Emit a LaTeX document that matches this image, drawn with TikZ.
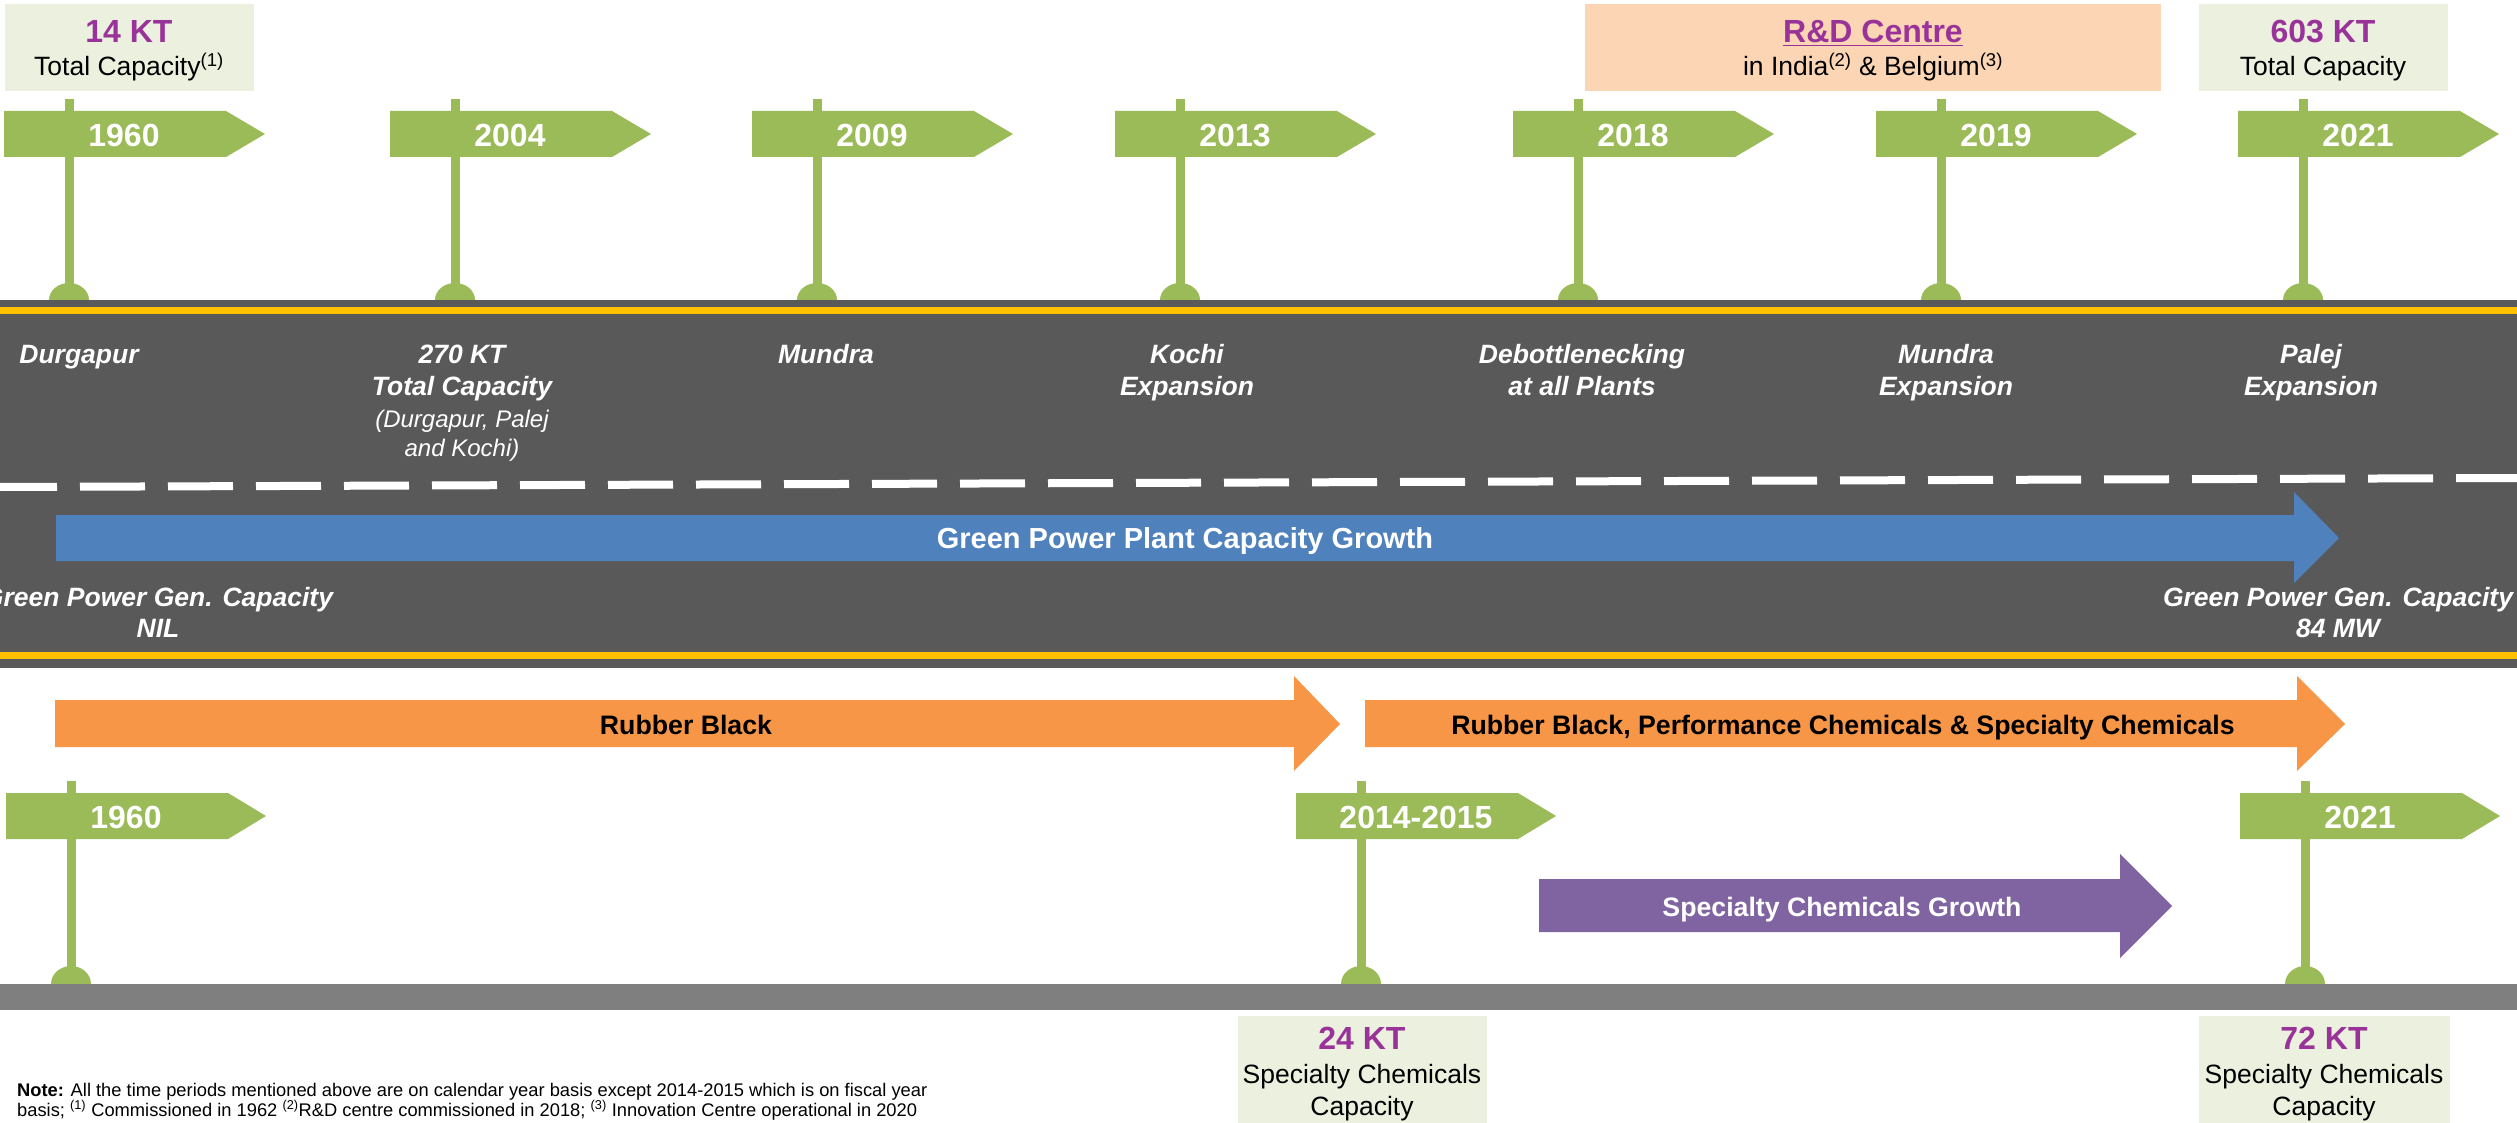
\documentclass[tikz,border=0pt]{standalone}
\usepackage{fontspec}
\setmainfont{Liberation Sans}
\definecolor{sgreen}{HTML}{9BBB59}
\definecolor{roadc}{HTML}{595959}
\definecolor{lanec}{HTML}{FFC000}
\definecolor{lroad}{HTML}{7F7F7F}
\definecolor{gblue}{HTML}{4F81BD}
\definecolor{rorange}{HTML}{F79646}
\definecolor{spurple}{HTML}{8064A2}
\definecolor{numpurple}{HTML}{993399}
\definecolor{boxgreen}{HTML}{EBF1DE}
\definecolor{boxpeach}{HTML}{FCD5B5}
\begin{document}
\begin{tikzpicture}[x=1pt,y=-1pt,
  yearlbl/.style={text=white,font=\fontsize{32}{38}\selectfont\bfseries,anchor=base,inner sep=0pt},
  roadbi/.style={text=white,font=\fontsize{26.5}{31}\selectfont\bfseries\itshape,anchor=base,inner sep=0pt},
  roadit/.style={text=white,font=\fontsize{24}{29}\selectfont\itshape,anchor=base,inner sep=0pt},
  numlbl/.style={text=numpurple,font=\fontsize{32}{38}\selectfont\bfseries,anchor=base,inner sep=0pt},
  boxtxt/.style={text=black,font=\fontsize{26.5}{31}\selectfont,anchor=base,inner sep=0pt},
  barlbl/.style={font=\fontsize{26.7}{31}\selectfont\bfseries,anchor=base,inner sep=0pt},
  notetxt/.style={text=black,font=\fontsize{18.3}{21}\selectfont,anchor=base west,inner sep=0pt}
]
\useasboundingbox (0,0) rectangle (2517,1123);
\fill[white] (0,0) rectangle (2517,1123);

% info boxes
\fill[boxgreen] (5,4) rectangle (254,91);
\fill[boxpeach] (1585,4) rectangle (2161,91);
\fill[boxgreen] (2199,4) rectangle (2448,91);
\fill[boxgreen] (1238,1016) rectangle (1487,1123);
\fill[boxgreen] (2199,1016) rectangle (2450,1123);

\node[numlbl] (kt14) at (129,43) {14 KT};
\node[boxtxt] (cap14) at (129,76) {Total Capacity\textsuperscript{(1)}};
\node[numlbl] (rnd) at (1873,43) {\underline{R\&D Centre}};
\node[boxtxt] (rndloc) at (1873,76) {in India\textsuperscript{(2)} \& Belgium\textsuperscript{(3)}};
\node[numlbl] (kt603) at (2323,43) {603 KT};
\node[boxtxt] (cap603) at (2323,76) {Total Capacity};

% upper signposts
\foreach \px/\yr/\nm in {69/1960/ua,455/2004/ub,817/2009/uc,1180/2013/ud,1578/2018/ue,1941/2019/uf,2303/2021/ug}{
  \fill[sgreen] (\px-4.5,99) rectangle (\px+4.5,300);
  \fill[sgreen] (\px,300) ellipse[x radius=20pt,y radius=17pt];
  \fill[sgreen] (\px-65,111) -- (\px+157,111) -- (\px+196,134) -- (\px+157,157) -- (\px-65,157) -- cycle;
  \node[yearlbl] (\nm) at (\px+55,147) {\yr};
}

% upper road
\fill[roadc] (0,300) rectangle (2517,668);
\fill[lanec] (0,307) rectangle (2517,314);
\fill[lanec] (0,652) rectangle (2517,659);
\draw[white,line width=8pt,dash pattern=on 65pt off 23pt,dash phase=8pt] (0,487) -- (2517,478);

% road texts
\node[roadbi] (durg) at (79,363) {Durgapur};
\node[roadbi] (kt270) at (462,363) {270 KT};
\node[roadbi] (tc270) at (462,395) {Total Capacity};
\node[roadit] (pl1) at (462,427) {(Durgapur, Palej};
\node[roadit] (pl2) at (462,456) {and Kochi)};
\node[roadbi] (mun) at (826,363) {Mundra};
\node[roadbi] (koc1) at (1187,363) {Kochi};
\node[roadbi] (koc2) at (1187,395) {Expansion};
\node[roadbi] (deb1) at (1582,363) {Debottlenecking};
\node[roadbi] (deb2) at (1582,395) {at all Plants};
\node[roadbi] (mex1) at (1946,363) {Mundra};
\node[roadbi] (mex2) at (1946,395) {Expansion};
\node[roadbi] (pal1) at (2311,363) {Palej};
\node[roadbi] (pal2) at (2311,395) {Expansion};

% green power arrow
\fill[gblue] (56,515) -- (2294,515) -- (2294,492) -- (2339,538) -- (2294,583) -- (2294,561) -- (56,561) -- cycle;
\node[barlbl,text=white,font=\fontsize{29}{34}\selectfont\bfseries] (gpg) at (1185,548) {Green Power Plant Capacity Growth};
\node[roadbi] (gpl1) at (158,606) {Green Power Gen. Capacity};
\node[roadbi] (gpl2) at (158,637) {NIL};
\node[roadbi] (gpr1) at (2338,606) {Green Power Gen. Capacity};
\node[roadbi] (gpr2) at (2338,637) {84 MW};

% orange arrows
\fill[rorange] (55,700) -- (1294,700) -- (1294,676) -- (1340,724) -- (1294,771) -- (1294,747) -- (55,747) -- cycle;
\fill[rorange] (1365,700) -- (2297,700) -- (2297,676) -- (2345,724) -- (2297,771) -- (2297,747) -- (1365,747) -- cycle;
\node[barlbl,text=black] (rb) at (686,734) {Rubber Black};
\node[barlbl,text=black] (rbp) at (1843,734) {Rubber Black, Performance Chemicals \& Specialty Chemicals};

% lower signposts
\foreach \px/\yr/\nm in {71/1960/la,1361/2014-2015/lb,2305/2021/lc}{
  \fill[sgreen] (\px-4.5,781) rectangle (\px+4.5,984);
  \fill[sgreen] (\px,984) ellipse[x radius=20pt,y radius=18pt];
  \fill[sgreen] (\px-65,793) -- (\px+157,793) -- (\px+195,816) -- (\px+157,839) -- (\px-65,839) -- cycle;
  \node[yearlbl] (\nm) at (\px+55,828) {\yr};
}

% purple arrow
\fill[spurple] (1539,879) -- (2120,879) -- (2120,854) -- (2172,906) -- (2120,958) -- (2120,932) -- (1539,932) -- cycle;
\node[barlbl,text=white] (scg) at (1842,916) {Specialty Chemicals Growth};

% lower road
\fill[lroad] (0,984) rectangle (2517,1010);

% lower boxes text
\node[numlbl] (kt24) at (1362,1049) {24 KT};
\node[boxtxt] (sc24a) at (1362,1083) {Specialty Chemicals};
\node[boxtxt] (sc24b) at (1362,1115) {Capacity};
\node[numlbl] (kt72) at (2324,1049) {72 KT};
\node[boxtxt] (sc72a) at (2324,1083) {Specialty Chemicals};
\node[boxtxt] (sc72b) at (2324,1115) {Capacity};

% note
\node[notetxt] (note1) at (17,1096) {\textbf{Note:} All the time periods mentioned above are on calendar year basis except 2014-2015 which is on fiscal year};
\node[notetxt] (note2) at (17,1116) {basis; \textsuperscript{(1)} Commissioned in 1962 \textsuperscript{(2)}R\&D centre commissioned in 2018; \textsuperscript{(3)} Innovation Centre operational in 2020};
\end{tikzpicture}
\end{document}
